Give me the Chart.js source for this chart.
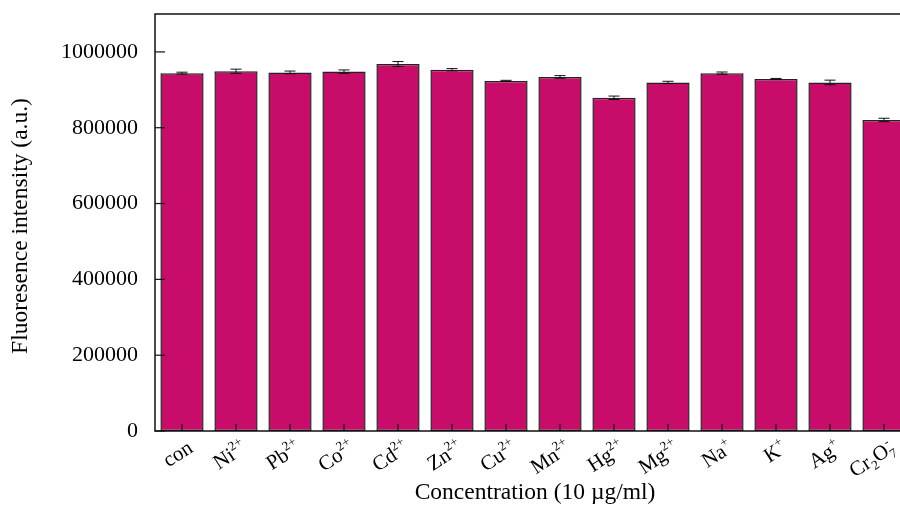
<!DOCTYPE html>
<html>
<head>
<meta charset="utf-8">
<script src="https://cdn.jsdelivr.net/npm/chart.js@4.4.1/dist/chart.umd.min.js"></script>
<style>
  html, body { margin: 0; padding: 0; background: #fff; overflow: hidden; }
  #wrap { position: relative; width: 911px; height: 506px; }
</style>
</head>
<body>
<div id="wrap"><canvas id="c" width="911" height="506"></canvas></div>
<script>
// ---- data ----
const categories = ['con', 'Ni2+', 'Pb2+', 'Co2+', 'Cd2+', 'Zn2+', 'Cu2+', 'Mn2+', 'Hg2+', 'Mg2+', 'Na+', 'K+', 'Ag+', 'Cr2O7-'];
const intensity = [944000, 949000, 946000, 948000, 968000, 953000, 923500, 934000, 879000, 919500, 944000, 928500, 919500, 820500];
const errors    = [2500, 5500, 3500, 4500, 6500, 3000, 1500, 3500, 4500, 3000, 3000, 1500, 6000, 4500];
const yTicks    = [0, 200000, 400000, 600000, 800000, 1000000];
// label pieces: [text, kind]
const labelParts = [
  [['con','n']],
  [['Ni','n'],['2+','sup']],
  [['Pb','n'],['2+','sup']],
  [['Co','n'],['2+','sup']],
  [['Cd','n'],['2+','sup']],
  [['Zn','n'],['2+','sup']],
  [['Cu','n'],['2+','sup']],
  [['Mn','n'],['2+','sup']],
  [['Hg','n'],['2+','sup']],
  [['Mg','n'],['2+','sup']],
  [['Na','n'],['+','sup']],
  [['K','n'],['+','sup']],
  [['Ag','n'],['+','sup']],
  [['Cr','n'],['2','sub'],['O','n'],['7','sub'],['-','supabove']]
];
const xTitle = 'Concentration (10 \u00b5g/ml)';
const yTitle = 'Fluoresence intensity (a.u.)';

const FONT = '"Liberation Serif", "Times New Roman", serif';
const FS_TICK = 22;
const FS_LBL = 21;
const FS_TITLE = 23.5;
const ROT = 33;

const frame = {
  id: 'frame',
  afterDatasetsDraw(chart) {
    const ctx = chart.ctx;
    const a = chart.chartArea;
    const xs = chart.scales.x, ys = chart.scales.y;
    ctx.save();
    // error bars
    ctx.strokeStyle = '#111';
    ctx.lineWidth = 1;
    intensity.forEach((v, i) => {
      const x = xs.getPixelForValue(i);
      const yt = ys.getPixelForValue(v + errors[i]);
      const yb = ys.getPixelForValue(v - errors[i]);
      ctx.beginPath();
      ctx.moveTo(x, yt); ctx.lineTo(x, yb);
      ctx.moveTo(x - 5.5, yt); ctx.lineTo(x + 5.5, yt);
      ctx.moveTo(x - 5.5, yb); ctx.lineTo(x + 5.5, yb);
      ctx.stroke();
    });
    // frame
    ctx.strokeStyle = '#111';
    ctx.lineWidth = 1.5;
    ctx.beginPath();
    ctx.moveTo(a.right + 5, a.top); ctx.lineTo(a.left, a.top); ctx.lineTo(a.left, a.bottom); ctx.lineTo(a.right + 5, a.bottom);
    ctx.stroke();
    // inward y ticks
    ctx.lineWidth = 1.2;
    ys.ticks.forEach(t => {
      const y = ys.getPixelForValue(t.value);
      ctx.beginPath(); ctx.moveTo(a.left, y); ctx.lineTo(a.left + 10, y); ctx.stroke();
    });
    // inward x ticks
    categories.forEach((c, i) => {
      const x = xs.getPixelForValue(i);
      ctx.beginPath(); ctx.moveTo(x, a.bottom); ctx.lineTo(x, a.bottom - 7); ctx.stroke();
    });
    ctx.restore();
  },
  afterDraw(chart) {
    const ctx = chart.ctx;
    const a = chart.chartArea;
    const xs = chart.scales.x;
    ctx.save();
    ctx.fillStyle = '#000';
    const big = FS_LBL + 'px ' + FONT;
    const small = Math.round(FS_LBL * 0.62) + 'px ' + FONT;
    labelParts.forEach((parts, i) => {
      const widths = parts.map(p => {
        ctx.font = p[1] === 'n' ? big : small;
        const mw = ctx.measureText(p[0]).width;
        return p[1] === 'supabove' ? 0 : mw;
      });
      const w = widths.reduce((s, v) => s + v, 0);
      const x0 = xs.getPixelForValue(i);
      ctx.save();
      ctx.translate(x0 + 12, a.bottom + 20);
      ctx.rotate(-ROT * Math.PI / 180);
      ctx.textBaseline = 'alphabetic';
      ctx.textAlign = 'left';
      let cx = -w;
      let prevX = cx;
      parts.forEach((p, k) => {
        if (p[1] === 'n') {
          ctx.font = big; ctx.fillText(p[0], cx, 0);
        } else if (p[1] === 'sup') {
          ctx.font = small; ctx.fillText(p[0], cx, -FS_LBL * 0.42);
        } else if (p[1] === 'sub') {
          ctx.font = small; ctx.fillText(p[0], cx, FS_LBL * 0.22);
        } else if (p[1] === 'supabove') {
          ctx.font = small; ctx.fillText(p[0], prevX + 1, -FS_LBL * 0.42);
        }
        prevX = cx;
        cx += widths[k];
      });
      ctx.restore();
    });
    // titles
    ctx.font = FS_TITLE + 'px ' + FONT;
    ctx.textAlign = 'center';
    ctx.textBaseline = 'middle';
    ctx.fillText(xTitle, 535, 493);
    ctx.save();
    ctx.translate(21, 226);
    ctx.rotate(-Math.PI / 2);
    ctx.fillText(yTitle, 0, 0);
    ctx.restore();
    ctx.restore();
  }
};

new Chart(document.getElementById('c'), {
  type: 'bar',
  data: {
    labels: categories,
    datasets: [{
      data: intensity,
      backgroundColor: '#C80C69',
      borderColor: '#222222',
      borderWidth: 1.5,
      borderSkipped: false,
      barPercentage: 0.8,
      categoryPercentage: 1.0
    }]
  },
  options: {
    responsive: false,
    animation: false,
    devicePixelRatio: 1,
    layout: { padding: { top: 14, right: 0, left: 0, bottom: 0 } },
    plugins: { legend: { display: false }, tooltip: { enabled: false } },
    scales: {
      x: {
        grid: { display: false, drawTicks: false },
        border: { display: false },
        ticks: { display: false },
        afterFit(s) { s.height = 75; s.paddingLeft = 0; s.paddingRight = 0; }
      },
      y: {
        min: 0,
        max: 1100000,
        grid: { display: false, drawTicks: false },
        border: { display: false },
        afterBuildTicks(s) { s.ticks = yTicks.map(v => ({ value: v })); },
        afterFit(s) { s.width = 155; s.paddingTop = 0; s.paddingBottom = 0; },
        ticks: {
          padding: 17,
          color: '#000',
          font: { family: FONT, size: FS_TICK },
          callback: v => String(v)
        }
      }
    }
  },
  plugins: [frame]
});
</script>
</body>
</html>
